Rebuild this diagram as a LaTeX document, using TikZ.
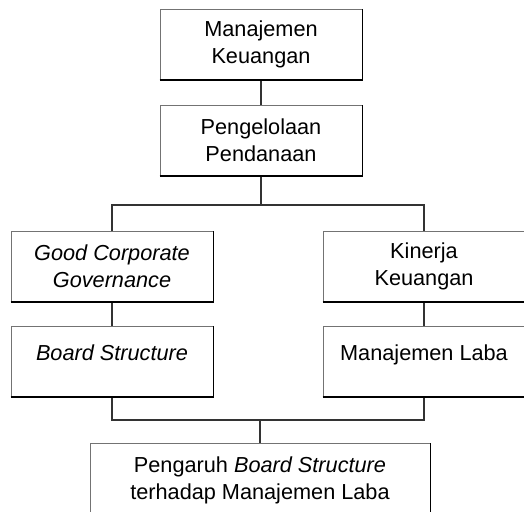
\documentclass[tikz,border=0pt]{standalone}
\usepackage{fontspec}
\setmainfont{Liberation Sans}
\usetikzlibrary{positioning}

\tikzset{
  box/.style={draw=black!55, line width=0.5pt, inner sep=0pt,
    minimum width=101pt, minimum height=35pt, align=center,
    font=\fontsize{10.85pt}{13.5pt}\selectfont},
  oneline/.style={text depth=9.3pt},
  wire/.style={black!80, line width=0.6pt},
  shadow edge/.style={black, line width=0.9pt}
}

\begin{document}
\begin{tikzpicture}[x=0.5pt, y=-0.5pt]
   \useasboundingbox (0,0) rectangle (524,511);
   % upper chain
   \node[box] (manKeu) at (261,44.5) {Manajemen\\Keuangan};
   \node[box] (pengDana) at (261,140.5) {Pengelolaan\\Pendanaan};
   % left branch
   \node[box] (gcg) at (112,266.5) {\textit{Good Corporate}\\\textit{Governance}};
   \node[box, oneline] (boardStr) at (112,361.5) {\textit{Board Structure}};
   % right branch
   \node[box] (kinKeu) at (424,266.5) {Kinerja\\Keuangan};
   \node[box, oneline] (manLaba) at (424,361.5) {Manajemen Laba};
   % result
   \node[box, minimum width=170pt, minimum height=37pt, anchor=north] (hasil) at (260,443)
      {Pengaruh \textit{Board Structure}\\terhadap Manajemen Laba};
   \coordinate (split) at (261,205);
   \coordinate (merge) at (260,420);
   % connectors
   \draw[wire] (manKeu.south) -- (pengDana.north);
   \draw[wire] (pengDana.south) -- (split);
   \draw[wire] (gcg.north) |- (split) -| (kinKeu.north);
   \draw[wire] (gcg.south) -- (boardStr.north);
   \draw[wire] (kinKeu.south) -- (manLaba.north);
   \draw[wire] (boardStr.south) |- (merge) -| (manLaba.south);
   \draw[wire] (merge) -- (hasil.north);
   % darker lower and right edges
   \foreach \n in {manKeu,pengDana,gcg,boardStr,kinKeu,manLaba,hasil}
      \draw[shadow edge] (\n.south west) -- (\n.south east) -- (\n.north east);
\end{tikzpicture}
\end{document}
